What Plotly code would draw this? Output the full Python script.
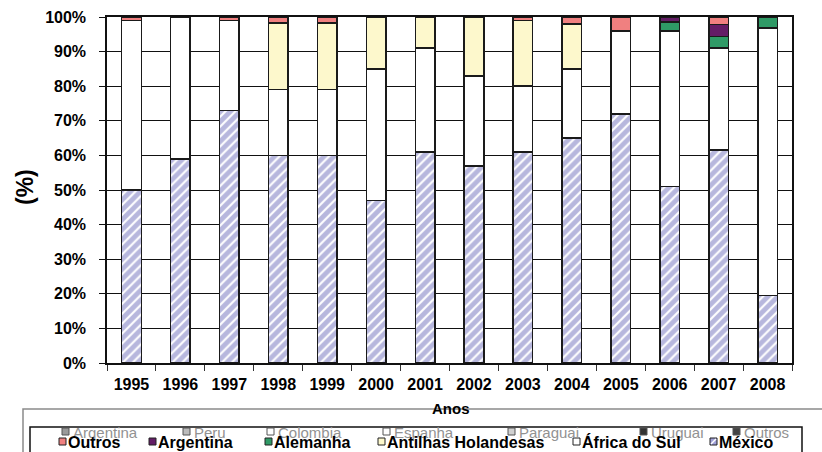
import plotly.graph_objects as go

years = ['1995', '1996', '1997', '1998', '1999', '2000', '2001',
         '2002', '2003', '2004', '2005', '2006', '2007', '2008']
mexico = [50, 59, 73, 60, 60, 47, 61, 57, 61, 65, 72, 51, 61.5, 19.5]
africa_do_sul = [49, 41, 26, 19, 19, 38, 30, 26, 19, 20, 24, 45, 29.5, 77.3]
antilhas = [None, None, None, 19.2, 19.2, 15, 9, 17, 19, 13, None, None, None, None]
alemanha = [None, None, None, None, None, None, None, None, None, None, None, 2.5, 3.3, 3.2]
argentina = [None, None, None, None, None, None, None, None, None, None, None, 1.5, 3.5, None]
outros = [1, None, 1, 1.8, 1.8, None, None, None, 1, 2, 4, None, 2.2, None]

legend_names = ['Outros', 'Argentina', 'Alemanha', 'Antilhas Holandesas', 'África do Sul', 'México']
ghost_names = ['Argentina', 'Peru', 'Colombia', 'Espanha', 'Paraguai', 'Uruguai', 'Outros']

FONT = 'Liberation Sans, Arial, sans-serif'
OUT = dict(color='#1a1a1a', width=1.5)

fig = go.Figure()
fig.add_bar(x=years, y=mexico, name='México',
            marker=dict(color='white', line=OUT,
                        pattern=dict(shape='/', fgcolor='#7070bb', bgcolor='white',
                                     size=7, solidity=0.7)))
fig.add_bar(x=years, y=africa_do_sul, name='África do Sul',
            marker=dict(color='white', line=OUT))
fig.add_bar(x=years, y=antilhas, name='Antilhas Holandesas',
            marker=dict(color='#fdf8cc', line=OUT))
fig.add_bar(x=years, y=alemanha, name='Alemanha',
            marker=dict(color='#2f9a66', line=OUT))
fig.add_bar(x=years, y=argentina, name='Argentina',
            marker=dict(color='#641d66', line=OUT))
fig.add_bar(x=years, y=outros, name='Outros',
            marker=dict(color='#f08080', line=OUT))

L, R, T, B = 107, 792, 17, 363
W, H = R - L, B - T


def px(x):
    return (x - L) / W


def py(y):
    return (B - y) / H


shapes = []
annotations = []

# outer grey box and inner legend box
shapes.append(dict(type='rect', xref='paper', yref='paper',
                   x0=px(23), x1=px(840), y0=py(409), y1=py(480),
                   line=dict(color='#8a8a8a', width=1.5), fillcolor='rgba(0,0,0,0)'))
shapes.append(dict(type='rect', xref='paper', yref='paper',
                   x0=px(30), x1=px(802), y0=py(427), y1=py(480),
                   line=dict(color='#111111', width=1.5), fillcolor='rgba(0,0,0,0)'))

# ghost legend row
ghost_x = [62, 183, 267, 383, 508, 640, 733]
ghost_fill = ['#9a9a9a', '#bbbbbb', '#ffffff', '#ffffff', '#d0d0d0', '#333333', '#444444']
for name, gx, gf in zip(ghost_names, ghost_x, ghost_fill):
    shapes.append(dict(type='rect', xref='paper', yref='paper',
                       x0=px(gx), x1=px(gx + 7), y0=py(428), y1=py(435),
                       line=dict(color='#555555', width=1), fillcolor=gf))
    annotations.append(dict(text=name, xref='paper', yref='paper', x=px(gx + 9), y=py(432),
                            xanchor='left', yanchor='middle', showarrow=False,
                            font=dict(family=FONT, size=15, color='#929292')))

# real legend row
leg_x = [59, 149, 265, 378, 573, 710]
leg_fill = ['#f08080', '#641d66', '#2f9a66', '#fdf8cc', '#ffffff', '#a0a0d8']
for name, lx, lf in zip(legend_names, leg_x, leg_fill):
    shapes.append(dict(type='rect', xref='paper', yref='paper',
                       x0=px(lx), x1=px(lx + 7), y0=py(438), y1=py(445),
                       line=dict(color='#222222', width=1), fillcolor=lf))
    annotations.append(dict(text='<b>' + name + '</b>', xref='paper', yref='paper',
                            x=px(lx + 7), y=py(442), xanchor='left', yanchor='middle',
                            showarrow=False,
                            font=dict(family=FONT, size=16, color='black')))
# diagonal stripe on México swatch
shapes.append(dict(type='line', xref='paper', yref='paper',
                   x0=px(711), x1=px(716), y0=py(444), y1=py(439),
                   line=dict(color='white', width=1.5)))

# axis titles
annotations.append(dict(text='<b>Anos</b>', xref='paper', yref='paper', x=px(451), y=py(408),
                        xanchor='center', yanchor='middle', showarrow=False,
                        font=dict(family=FONT, size=15, color='black')))
annotations.append(dict(text='<b>(%)</b>', xref='paper', yref='paper', x=px(25), y=py(187),
                        xanchor='center', yanchor='middle', showarrow=False, textangle=-90,
                        font=dict(family=FONT, size=23, color='black')))

fig.update_layout(
    barmode='stack',
    bargap=0.6,
    width=822, height=452,
    margin=dict(l=L, r=822 - R, t=T, b=452 - B, autoexpand=False),
    paper_bgcolor='white', plot_bgcolor='white',
    showlegend=False,
    shapes=shapes,
    annotations=annotations,
    font=dict(family=FONT, color='black'),
)
fig.update_xaxes(
    type='category', showline=True, linecolor='#111111', linewidth=1.5, mirror=True,
    ticks='outside', tickson='boundaries', ticklen=6, tickcolor='#333333',
    tickfont=dict(family=FONT, size=16, color='black', weight='bold'),
    ticklabelstandoff=6, showgrid=False, automargin=False,
)
fig.update_yaxes(
    range=[0, 100], tickvals=list(range(0, 101, 10)),
    ticktext=[f'{v}%' for v in range(0, 101, 10)],
    showline=True, linecolor='#111111', linewidth=1.5, mirror=True,
    ticks='outside', ticklen=6, tickcolor='#111111',
    showgrid=True, gridcolor='#111111', gridwidth=1,
    tickfont=dict(family=FONT, size=16, color='black', weight='bold'),
    ticklabelstandoff=10, zeroline=False, automargin=False,
)

fig.write_html('out.html', config={'displayModeBar': False},
               post_script="document.body.style.margin='0';document.body.style.overflow='hidden';")
